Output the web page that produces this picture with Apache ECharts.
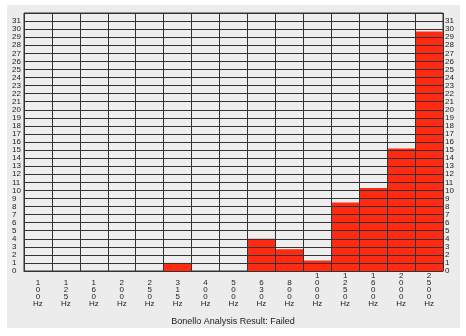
<!DOCTYPE html>
<html><head><meta charset="utf-8">
<style>html,body{margin:0;padding:0;background:#fff}#c{width:466px;height:336px}</style>
<script src="https://cdn.jsdelivr.net/npm/echarts@6/dist/echarts.min.js"></script>
</head><body><div id="c"></div>
<script>
const categories = ['100', '125', '160', '200', '250', '315', '400', '500', '630', '800', '1000', '1250', '1600', '2000', '2500'];
const values = [0, 0, 0, 0, 0, 1, 0, 0, 4, 2.7, 1.3, 8.5, 10.3, 15.2, 29.7];
const yMax = 32;
const title = 'Bonello Analysis Result: Failed';

const chart = echarts.init(document.getElementById('c'), null, {renderer: 'canvas'});
const yLabelFmt = v => (v >= 0 && v <= 31) ? String(v) : '';
const yLabelStyle = {fontFamily: 'Liberation Sans', fontSize: 8, color: '#222'};
chart.setOption({
  backgroundColor: '#fff',
  animation: false,
  graphic: [{type: 'rect', z: -10, shape: {x: 7, y: 5, width: 453, height: 323}, style: {fill: '#ececec'}}],
  title: {text: title, left: 'center', top: 317, padding: 0, textStyle: {fontFamily: 'Liberation Sans', fontSize: 9, fontWeight: 'normal', color: '#222'}},
  grid: {left: 24, right: 23, top: 13, bottom: 65, show: true, backgroundColor: '#eeeeee', borderColor: '#333', borderWidth: 1},
  xAxis: {
    type: 'category', data: categories, z: 5,
    axisLine: {show: true, lineStyle: {color: '#333'}},
    axisTick: {show: false},
    splitLine: {show: true, interval: 0, lineStyle: {color: '#333', width: 1}},
    axisLabel: {interval: 0, margin: 36, verticalAlign: 'bottom', lineHeight: 7, fontFamily: 'Liberation Sans', fontSize: 8, color: '#222',
      formatter: v => v.split('').join('\n') + '\nHz'}
  },
  yAxis: [
    {type: 'value', min: 0, max: yMax, interval: 1, z: 5, position: 'left',
     axisLine: {show: false}, axisTick: {show: false},
     splitLine: {show: true, lineStyle: {color: '#333', width: 1}},
     axisLabel: Object.assign({align: 'left', margin: 12, formatter: yLabelFmt}, yLabelStyle)},
    {type: 'value', min: 0, max: yMax, interval: 1, z: 5, position: 'right',
     axisLine: {show: false}, axisTick: {show: false}, splitLine: {show: false},
     axisLabel: Object.assign({align: 'left', margin: 2, formatter: yLabelFmt}, yLabelStyle)}
  ],
  series: [{
    type: 'bar', data: values, barCategoryGap: 0, yAxisIndex: 0,
    itemStyle: {color: '#ff2a12', borderWidth: 0}
  }]
});
</script></body></html>
